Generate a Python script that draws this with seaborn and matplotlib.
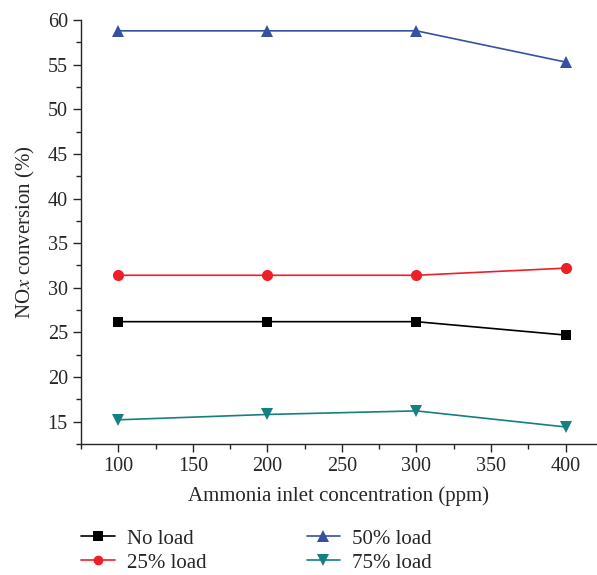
import pandas as pd
import matplotlib
matplotlib.use('Agg')
import matplotlib.pyplot as plt
from matplotlib.ticker import MultipleLocator
import seaborn as sns

# Data
ammonia_ppm = [100, 200, 300, 400]
no_load = [26.2, 26.2, 26.2, 24.7]
load_25 = [31.4, 31.4, 31.4, 32.2]
load_50 = [58.8, 58.8, 58.8, 55.3]
load_75 = [15.2, 15.8, 16.2, 14.4]
series_names = ['No load', '25% load', '50% load', '75% load']

rows = []
for name, vals in zip(series_names, [no_load, load_25, load_50, load_75]):
    for x, v in zip(ammonia_ppm, vals):
        rows.append({'ppm': x, 'conv': v, 'series': name})
df = pd.DataFrame(rows)

sns.set_style('ticks')
plt.rcParams['font.family'] = ['Liberation Serif', 'DejaVu Serif']
plt.rcParams['mathtext.fontset'] = 'stix'

colors = {'No load': '#000000', '25% load': '#ee2026',
          '50% load': '#3451a3', '75% load': '#14807f'}
markers = {'No load': 's', '25% load': 'o', '50% load': '^', '75% load': 'v'}
msize = {'s': 7.5, 'o': 8, '^': 9, 'v': 9}

fig = plt.figure(figsize=(5.97, 5.75), dpi=100)
ax = fig.add_axes([0.1357, 0.228, 0.864, 0.737])
sns.lineplot(data=df, x='ppm', y='conv', hue='series', style='series',
             palette=colors, markers=markers, dashes=False, markersize=7.5,
             markeredgewidth=0, linewidth=1.2, ax=ax, legend=False)
for line in ax.lines:
    line.set_markersize(msize.get(line.get_marker(), 7.5))

ax.set_xlim(75, 421)
ax.set_ylim(12.5, 60)
ax.xaxis.set_major_locator(MultipleLocator(50))
ax.xaxis.set_minor_locator(MultipleLocator(25))
ax.yaxis.set_major_locator(MultipleLocator(5))
ax.yaxis.set_minor_locator(MultipleLocator(2.5))
ax.set_yticks(range(15, 61, 5))
ax.tick_params(which='major', length=6, width=1, labelsize=14.5, direction='out')
ax.tick_params(which='minor', length=3.5, width=1, direction='out')
sns.despine(ax=ax)
for s in ['left', 'bottom']:
    ax.spines[s].set_linewidth(1)
ax.set_xlabel('Ammonia inlet concentration (ppm)', fontsize=15, labelpad=7)
ax.set_ylabel('NO$\\mathit{x}$ conversion (%)', fontsize=15, labelpad=8)

handles = [plt.Line2D([], [], color=colors[n], marker=markers[n],
                      markersize=msize[markers[n]] - 1,
                      markeredgewidth=0, linewidth=1.2) for n in series_names]
fig.legend(handles, series_names, ncol=2, loc='upper left',
           bbox_to_anchor=(0.136, 0.08), frameon=False, fontsize=15,
           handlelength=1.6, handletextpad=0.6, columnspacing=4.8,
           labelspacing=0.22, borderaxespad=0, borderpad=0)

fig.savefig('out.png', dpi=100)
